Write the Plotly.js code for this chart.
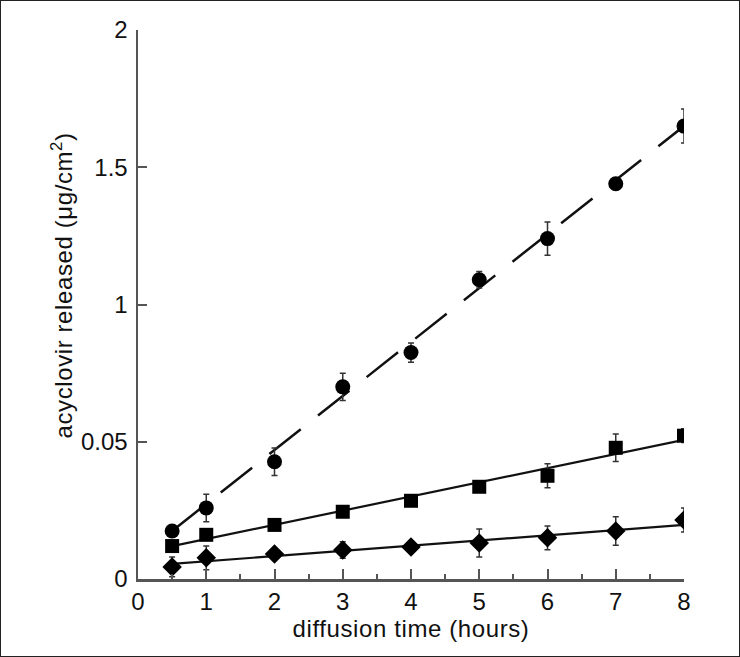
<!DOCTYPE html>
<html><head><meta charset="utf-8">
<script src="https://cdn.plot.ly/plotly-3.0.1.min.js"></script>
<style>
html,body{margin:0;padding:0;background:#fff;}
#chart{width:738px;height:655px;border:1px solid #222;}
#chart .g-xtitle text, #chart .annotation-text{letter-spacing:0.6px;}
</style></head>
<body><div id="chart"></div>
<script>
const hours = [0.5, 1, 2, 3, 4, 5, 6, 7, 8];
const circleVals = [0.175, 0.259, 0.427, 0.70, 0.825, 1.09, 1.24, 1.44, 1.65];
const circleErr  = [0.012, 0.05, 0.05, 0.05, 0.035, 0.03, 0.061, 0.02, 0.062];
const squareVals = [0.120, 0.161, 0.197, 0.245, 0.285, 0.336, 0.376, 0.478, 0.522];
const squareErr  = [0.01, 0.015, 0.015, 0.015, 0.01, 0.01, 0.044, 0.05, 0.025];
const diamondVals = [0.044, 0.077, 0.091, 0.106, 0.117, 0.131, 0.150, 0.175, 0.215];
const diamondErr  = [0.036, 0.043, 0.012, 0.03, 0.01, 0.051, 0.043, 0.052, 0.044];
const fitX = [0.5, 8];
const circleFit = [0.175, 1.65];
const squareFit = [0.120, 0.507];
const diamondFit = [0.055, 0.197];
const yTickVals = [0, 0.5, 1, 1.5, 2];
const yTickText = ['0', '0.05', '1', '1.5', '2'];
const xTickVals = [0, 1, 2, 3, 4, 5, 6, 7, 8];
const xTitle = 'diffusion time (hours)';
const yTitle = 'acyclovir released (μg/cm<sup>2</sup>)';

const errStyle = (arr) => ({type:'data', array:arr, visible:true, color:'#333', thickness:1.5, width:3});
const traces = [
  {x:fitX, y:circleFit, mode:'lines', line:{color:'#111', width:2.5, dash:'40px,22px'}, hoverinfo:'skip'},
  {x:fitX, y:squareFit, mode:'lines', line:{color:'#111', width:2.2}, hoverinfo:'skip'},
  {x:fitX, y:diamondFit, mode:'lines', line:{color:'#111', width:2.2}, hoverinfo:'skip'},
  {x:hours, y:circleVals, mode:'markers', marker:{symbol:'circle', size:15, color:'#000'}, error_y:errStyle(circleErr)},
  {x:hours, y:squareVals, mode:'markers', marker:{symbol:'square', size:14, color:'#000'}, error_y:errStyle(squareErr)},
  {x:hours, y:diamondVals, mode:'markers', marker:{symbol:'diamond', size:15, color:'#000'}, error_y:errStyle(diamondErr)}
];
const fam = '"Liberation Sans", Arial, sans-serif';
const layout = {
  width:738, height:655,
  margin:{l:137, r:55, t:29, b:77},
  paper_bgcolor:'#fff', plot_bgcolor:'#fff',
  showlegend:false,
  font:{family:fam, size:24, color:'#111'},
  xaxis:{
    range:[0,8], tickvals:xTickVals, ticks:'inside', ticklen:10, tickwidth:2, tickcolor:'#555',
    showline:true, linecolor:'#555', linewidth:2.5, showgrid:false, zeroline:false,
    tickfont:{family:fam, size:24, color:'#111'}, ticklabelstandoff:0,
    minor:{dtick:0.5, ticks:'inside', ticklen:5, tickwidth:2, tickcolor:'#555', showgrid:false},
    title:{text:xTitle, font:{family:fam, size:24, color:'#111'}, standoff:4}
  },
  yaxis:{
    range:[0,2], tickvals:yTickVals, ticktext:yTickText, ticks:'inside', ticklen:9, tickwidth:2, tickcolor:'#555',
    showline:true, linecolor:'#555', linewidth:2.5, showgrid:false, zeroline:false,
    tickfont:{family:fam, size:24, color:'#111'}, ticklabelstandoff:3
  },
  annotations:[{
    text:yTitle, textangle:-90, xref:'paper', yref:'paper',
    x:-0.14, y:0.534, xanchor:'center', yanchor:'middle', showarrow:false,
    font:{family:fam, size:24, color:'#111'}
  }]
};
Plotly.newPlot('chart', traces, layout, {displayModeBar:false, staticPlot:true});
</script></body></html>
